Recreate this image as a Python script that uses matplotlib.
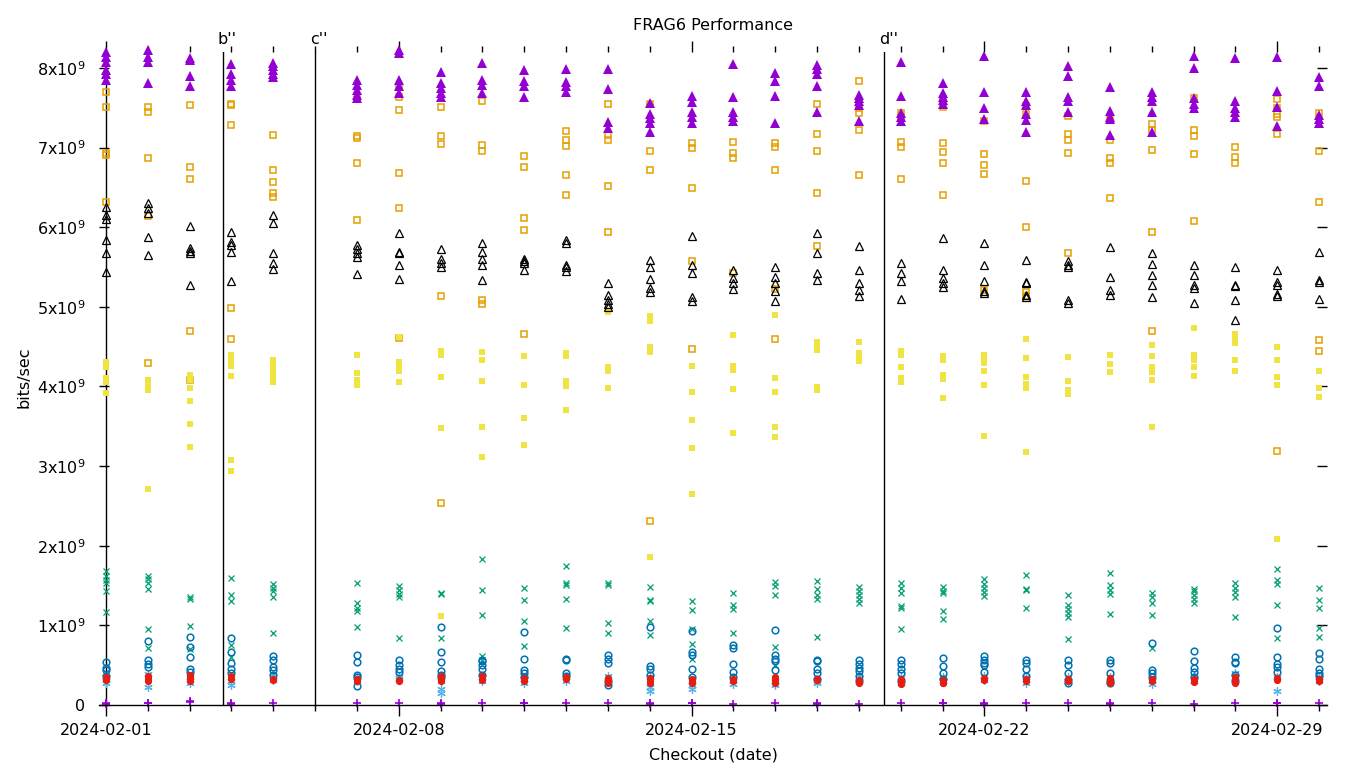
import numpy as np
import matplotlib
matplotlib.use('Agg')
import matplotlib.pyplot as plt
import matplotlib.dates as mdates
from matplotlib.ticker import FixedLocator, FuncFormatter


# checkout dates (one column of runs per date)
checkout_dates = ['2024-02-01', '2024-02-02', '2024-02-03', '2024-02-04', '2024-02-05',
                  '2024-02-07', '2024-02-08', '2024-02-09', '2024-02-10', '2024-02-11',
                  '2024-02-12', '2024-02-13', '2024-02-14', '2024-02-15', '2024-02-16',
                  '2024-02-17', '2024-02-18', '2024-02-19', '2024-02-20', '2024-02-21',
                  '2024-02-22', '2024-02-23', '2024-02-24', '2024-02-25', '2024-02-26',
                  '2024-02-27', '2024-02-28', '2024-02-29', '2024-03-01']

# throughput per run, in 10^9 bits/sec, one sublist per checkout date
plus_purple = [[0.02, 0.01], [0.03, 0.02], [0.05, 0.04], [0.02, 0.01], [0.02],
               [0.02], [0.02], [0.02, 0.01], [0.03], [0.02, 0.03],
               [0.03], [0.02], [0.02, 0.01], [0.03, 0.02], [0.01],
               [0.02], [0.02, 0.01], [0.01], [0.02], [0.03, 0.02],
               [0.03, 0.01], [0.02], [0.02], [0.02, 0.01], [0.02],
               [0.01], [0.02], [0.03, 0.02], [0.02]]

x_green = [[1.68, 1.62, 1.57, 1.53, 1.43, 1.17], [1.62, 1.58, 1.53, 1.46, 0.95, 0.71],
           [1.35, 1.33, 0.99, 0.7], [1.6, 1.38, 1.31, 0.75, 0.6], [1.52, 1.47, 1.43, 1.35, 0.9],
           [1.53, 1.28, 1.22, 1.18, 0.98], [1.5, 1.45, 1.4, 1.36, 0.84], [1.41, 1.39, 0.84],
           [1.83, 1.44, 1.13, 0.62, 0.57], [1.47, 1.32, 1.05, 0.74],
           [1.75, 1.53, 1.51, 1.33, 0.97], [1.53, 1.51, 1.03, 0.9], [1.48, 1.32, 1.3, 1.05, 0.88],
           [1.3, 1.19, 0.96, 0.76, 0.58], [1.41, 1.26, 1.2, 0.9],
           [1.54, 1.49, 1.38, 0.73, 0.5], [1.56, 1.46, 1.38, 1.33, 0.85],
           [1.48, 1.43, 1.38, 1.33, 1.28], [1.53, 1.47, 1.41, 1.24, 1.22, 0.95],
           [1.48, 1.43, 1.41, 1.18, 1.08],
           [1.58, 1.52, 1.47, 1.42, 1.37], [1.63, 1.46, 1.45, 1.22],
           [1.38, 1.26, 1.2, 1.15, 1.1, 0.83], [1.66, 1.51, 1.45, 1.39, 1.14],
           [1.41, 1.35, 1.28, 1.13, 0.72],
           [1.46, 1.43, 1.38, 1.33, 1.28], [1.53, 1.47, 1.42, 1.36, 1.11],
           [1.71, 1.57, 1.52, 1.26, 0.84], [1.47, 1.32, 1.22, 0.97, 0.86]]

star_lblue = [[0.35, 0.31, 0.28], [0.39, 0.23], [0.35, 0.28], [0.3, 0.25], [0.37, 0.32],
              [0.35, 0.3], [0.36, 0.34], [0.3, 0.2, 0.15], [0.35, 0.3], [0.33, 0.28],
              [0.35, 0.3], [0.37, 0.3], [0.35, 0.22, 0.17], [0.3, 0.25, 0.2], [0.3, 0.26],
              [0.3, 0.25], [0.3, 0.27], [0.35, 0.3], [0.35, 0.3, 0.27], [0.35, 0.3],
              [0.36, 0.32], [0.35, 0.28], [0.35, 0.3], [0.35, 0.3], [0.3, 0.26],
              [0.36, 0.3], [0.4, 0.35, 0.3], [0.35, 0.18], [0.35, 0.3]]

sq_orange = [[7.7, 7.51, 6.93, 6.91, 6.32], [7.51, 7.45, 6.87, 6.14, 4.3],
             [7.54, 6.76, 6.61, 4.7, 4.08], [7.55, 7.53, 7.28, 4.98, 4.6],
             [7.16, 6.72, 6.57, 6.43, 6.38],
             [7.61, 7.14, 7.12, 6.81, 6.09], [7.76, 7.64, 7.47, 6.68, 6.24, 4.61],
             [7.51, 7.15, 7.05, 5.13, 2.54], [7.58, 7.03, 6.96, 5.08, 5.03],
             [6.9, 6.76, 6.11, 5.97, 4.66],
             [7.21, 7.1, 7.02, 6.66, 6.4], [7.55, 7.16, 7.1, 6.52, 5.94], [7.55, 6.96, 6.72, 2.31],
             [7.06, 7.0, 6.49, 5.57, 4.47], [7.07, 6.93, 6.87, 5.43],
             [7.06, 7.01, 6.72, 5.22, 4.6], [7.55, 7.17, 6.96, 6.43, 5.77],
             [7.84, 7.5, 7.43, 7.22, 6.66], [7.44, 7.38, 7.07, 7.01, 6.61],
             [7.6, 7.51, 7.06, 6.95, 6.8, 6.41],
             [7.33, 6.92, 6.78, 6.67, 5.21], [7.52, 7.42, 6.58, 6.0, 5.18, 5.13],
             [7.4, 7.17, 7.1, 6.93, 5.68], [7.36, 7.1, 6.87, 6.8, 6.37],
             [7.3, 7.22, 6.97, 5.94, 4.7],
             [7.62, 7.22, 7.14, 6.92, 6.08], [7.01, 6.88, 6.8],
             [7.61, 7.5, 7.42, 7.38, 7.17, 3.19], [7.44, 6.96, 6.32, 4.58, 4.45]]

sq_yellow = [[4.31, 4.25, 4.11, 4.06, 3.92], [4.08, 4.02, 3.95, 2.71],
             [4.15, 4.08, 3.98, 3.82, 3.53, 3.24], [4.4, 4.33, 4.26, 4.13, 3.08, 2.94],
             [4.33, 4.27, 4.2, 4.12, 4.06],
             [4.4, 4.17, 4.08, 4.02], [4.62, 4.31, 4.26, 4.2, 4.06],
             [4.44, 4.4, 4.12, 3.48, 1.12], [4.43, 4.33, 4.07, 3.49, 3.12],
             [4.38, 4.02, 3.6, 3.26],
             [4.42, 4.38, 4.07, 4.0, 3.7], [4.93, 4.25, 4.2, 3.98],
             [4.89, 4.82, 4.5, 4.43, 1.86], [4.26, 3.93, 3.58, 3.23, 2.65],
             [4.65, 4.26, 4.21, 3.97, 3.42],
             [4.9, 4.11, 3.93, 3.49, 3.36], [4.56, 4.51, 4.46, 3.99, 3.96],
             [4.56, 4.42, 4.37, 4.32], [4.45, 4.4, 4.25, 4.11, 4.05],
             [4.38, 4.33, 4.14, 4.09, 3.86],
             [4.4, 4.33, 4.3, 4.2, 4.02, 3.38], [4.6, 4.36, 4.12, 4.03, 3.98, 3.18],
             [4.37, 4.07, 3.96, 3.91], [4.4, 4.28, 4.18],
             [4.52, 4.38, 4.25, 4.18, 4.08, 3.49],
             [4.74, 4.4, 4.33, 4.25, 4.13], [4.66, 4.61, 4.55, 4.33, 4.2],
             [4.49, 4.33, 4.12, 4.02, 2.08], [4.2, 3.98, 3.87]]

circ_blue = [[0.54, 0.47, 0.44, 0.36], [0.8, 0.56, 0.52, 0.48], [0.85, 0.73, 0.6, 0.45, 0.42],
             [0.84, 0.67, 0.53, 0.45, 0.4], [0.61, 0.56, 0.48, 0.44, 0.38],
             [0.63, 0.54, 0.38, 0.35, 0.24], [0.56, 0.5, 0.45, 0.42],
             [0.98, 0.67, 0.54, 0.43, 0.38, 0.35], [0.57, 0.55, 0.5, 0.45, 0.38],
             [0.92, 0.58, 0.44, 0.4, 0.35],
             [0.58, 0.56, 0.4, 0.37], [0.63, 0.58, 0.53, 0.3, 0.25], [0.98, 0.49, 0.45, 0.38],
             [0.93, 0.67, 0.63, 0.45, 0.35], [0.75, 0.72, 0.52, 0.42, 0.35],
             [0.94, 0.63, 0.58, 0.55, 0.44], [0.57, 0.55, 0.45, 0.4, 0.33],
             [0.56, 0.52, 0.47, 0.43, 0.36, 0.3], [0.56, 0.52, 0.45, 0.4, 0.3],
             [0.59, 0.49, 0.4, 0.33],
             [0.62, 0.57, 0.53, 0.5, 0.41], [0.56, 0.53, 0.45, 0.36],
             [0.56, 0.5, 0.4, 0.32, 0.28], [0.56, 0.53, 0.4, 0.3, 0.28], [0.78, 0.44, 0.4, 0.35],
             [0.68, 0.55, 0.46, 0.42, 0.35], [0.6, 0.54, 0.53, 0.38, 0.3],
             [0.97, 0.6, 0.52, 0.48, 0.42], [0.65, 0.58, 0.45, 0.4, 0.37]]

circ_red = [[0.35, 0.33, 0.31], [0.36, 0.33, 0.3], [0.38, 0.35, 0.33, 0.3], [0.36, 0.33],
            [0.33, 0.31], [0.33, 0.3], [0.31, 0.3], [0.36, 0.32, 0.3], [0.36, 0.32],
            [0.34, 0.3], [0.35, 0.33], [0.34, 0.3, 0.28], [0.34, 0.3, 0.27],
            [0.33, 0.29, 0.27], [0.33, 0.3], [0.35, 0.31, 0.27], [0.33, 0.31],
            [0.31, 0.28], [0.33, 0.3, 0.26], [0.31, 0.28, 0.27], [0.34, 0.31],
            [0.33, 0.3], [0.33, 0.3], [0.34, 0.3, 0.27], [0.33, 0.3],
            [0.33, 0.3, 0.29], [0.35, 0.3, 0.27], [0.34, 0.31], [0.33, 0.3]]

tri_black = [[6.25, 6.15, 6.1, 5.84, 5.68, 5.44], [6.3, 6.24, 6.18, 5.88, 5.65],
             [6.02, 5.74, 5.7, 5.68, 5.28], [5.94, 5.82, 5.78, 5.69, 5.33],
             [6.15, 6.05, 5.68, 5.55, 5.48],
             [5.78, 5.72, 5.67, 5.63, 5.41], [5.93, 5.69, 5.68, 5.52, 5.35],
             [5.72, 5.6, 5.55, 5.5], [5.8, 5.69, 5.6, 5.52, 5.34], [5.6, 5.58, 5.55, 5.46],
             [5.84, 5.8, 5.53, 5.5, 5.45], [5.3, 5.15, 5.08, 5.03, 5.0],
             [5.59, 5.5, 5.35, 5.24, 5.18], [5.89, 5.52, 5.43, 5.12, 5.07],
             [5.46, 5.36, 5.3, 5.22],
             [5.5, 5.37, 5.3, 5.2, 5.07], [5.93, 5.67, 5.42, 5.34],
             [5.77, 5.46, 5.3, 5.21, 5.13], [5.55, 5.43, 5.33, 5.1],
             [5.87, 5.46, 5.36, 5.3, 5.25],
             [5.8, 5.52, 5.33, 5.2, 5.17], [5.59, 5.31, 5.3, 5.15, 5.12],
             [5.57, 5.52, 5.5, 5.08, 5.05], [5.75, 5.38, 5.21, 5.15],
             [5.67, 5.54, 5.4, 5.27, 5.12],
             [5.52, 5.4, 5.27, 5.24, 5.05], [5.5, 5.28, 5.26, 5.09, 4.84],
             [5.46, 5.31, 5.28, 5.16, 5.13], [5.69, 5.34, 5.31, 5.1]]

tri_purple = [[8.2, 8.14, 8.08, 7.97, 7.92, 7.85], [8.22, 8.14, 8.07, 7.81],
              [8.13, 8.1, 7.9, 7.77], [8.05, 7.92, 7.85, 7.77], [8.06, 8.02, 7.98, 7.93, 7.88],
              [7.85, 7.78, 7.72, 7.66, 7.62], [8.22, 8.19, 7.85, 7.77, 7.69],
              [7.95, 7.81, 7.75, 7.69, 7.64], [8.06, 7.85, 7.78, 7.69], [7.98, 7.83, 7.77, 7.64],
              [7.99, 7.82, 7.77, 7.7], [7.99, 7.74, 7.32, 7.25], [7.56, 7.42, 7.37, 7.31, 7.2],
              [7.65, 7.57, 7.45, 7.38, 7.31], [8.05, 7.64, 7.45, 7.38, 7.33],
              [7.94, 7.84, 7.65, 7.31], [8.04, 7.99, 7.93, 7.77, 7.45],
              [7.66, 7.62, 7.58, 7.53, 7.33], [8.07, 7.65, 7.44, 7.38, 7.33],
              [7.81, 7.69, 7.64, 7.6, 7.55],
              [8.15, 7.7, 7.5, 7.36], [7.7, 7.58, 7.54, 7.42, 7.35, 7.2],
              [8.02, 7.9, 7.64, 7.58, 7.45], [7.76, 7.46, 7.39, 7.36, 7.16],
              [7.7, 7.63, 7.58, 7.45, 7.2],
              [8.15, 8.0, 7.62, 7.55, 7.5], [8.13, 7.59, 7.5, 7.45, 7.39],
              [8.14, 7.71, 7.51, 7.27], [7.89, 7.77, 7.41, 7.36, 7.31]]

# labelled separators
marker_lines = ['2024-02-01 00:00', '2024-02-03 19:00', '2024-02-06 00:00', '2024-02-19 14:30']
marker_labels = ['', "b''", "c''", "d''"]

major_dates = ['2024-02-01', '2024-02-08', '2024-02-15', '2024-02-22', '2024-02-29']


plt.rcParams['font.family'] = 'DejaVu Sans'
plt.rcParams['font.size'] = 11.5

W, H = 1360, 768
fig = plt.figure(figsize=(W / 100, H / 100), dpi=100)
ax = fig.add_axes([99 / W, 1 - 705 / H, (1327 - 99) / W, (705 - 52) / H])

days = mdates.datestr2num(checkout_dates)

# gnuplot-ish styles, drawn in plot order
styles = [
    (plus_purple, dict(marker='+', color='#9400d3', ms=6, mew=1.2)),
    (x_green, dict(marker='x', color='#009e73', ms=5, mew=0.9)),
    (star_lblue, dict(marker=(6, 2, 0), color='#56b4e9', ms=6, mew=0.9)),
    (sq_orange, dict(marker='s', mfc='none', mec='#e69f00', ms=5, mew=1.1)),
    (sq_yellow, dict(marker='s', color='#f0e442', ms=5, mew=0)),
    (circ_blue, dict(marker='o', mfc='none', mec='#0072b2', ms=4.8, mew=1.1)),
    (circ_red, dict(marker='o', color='#e51e10', ms=5.2, mew=0)),
    (tri_black, dict(marker='^', mfc='none', mec='black', ms=6, mew=0.9)),
    (tri_purple, dict(marker='^', color='#9400d3', ms=6.5, mew=0)),
]

for values, st in styles:
    xs, ys = [], []
    for d, runs in zip(days, values):
        for v in runs:
            xs.append(d)
            ys.append(v * 1e9)
    ax.plot(xs, ys, linestyle='none', clip_on=False, **st)

for when, lab in zip(marker_lines, marker_labels):
    xd = mdates.datestr2num(when)
    ax.axvline(xd, color='black', lw=1.0, zorder=1)
    if lab:
        ax.annotate(lab, xy=(xd, 1), xycoords=('data', 'axes fraction'),
                    xytext=(4, 12), textcoords='offset pixels',
                    ha='center', va='center', fontsize=11.5)

ax.set_xlim(mdates.datestr2num('2024-02-01') - 7 / 41.8,
            mdates.datestr2num('2024-03-01') + 8 / 41.8)
ax.set_ylim(0, 8.2e9)

ax.xaxis.set_major_locator(FixedLocator(mdates.datestr2num(major_dates)))
ax.xaxis.set_major_formatter(mdates.DateFormatter('%Y-%m-%d'))
ax.xaxis.set_minor_locator(mdates.DayLocator())

ax.set_yticks(np.arange(0, 9) * 1e9)
ax.yaxis.set_major_formatter(FuncFormatter(
    lambda v, p: '0' if v == 0 else '%dx10$^9$' % round(v / 1e9)))

for s in ['top', 'right', 'left']:
    ax.spines[s].set_visible(False)
ax.spines['bottom'].set_linewidth(1.0)

ax.tick_params(axis='x', which='major', direction='out', length=8, width=1,
               top=True, bottom=True, pad=5, labelsize=11.5)
ax.tick_params(axis='x', which='minor', direction='out', length=4, width=1,
               top=True, bottom=True)
ax.tick_params(axis='y', direction='in', length=7, width=1,
               left=True, right=True, pad=10, labelsize=11.5)

fig.text(713 / W, 1 - 25 / H, 'FRAG6 Performance', ha='center', va='center', fontsize=11.5)
fig.text(713 / W, 1 - 755 / H, 'Checkout (date)', ha='center', va='center', fontsize=11.5)
fig.text(24 / W, 1 - 377 / H, 'bits/sec', ha='center', va='center', rotation=90, fontsize=11.5)

fig.savefig('out.png', dpi=100)
